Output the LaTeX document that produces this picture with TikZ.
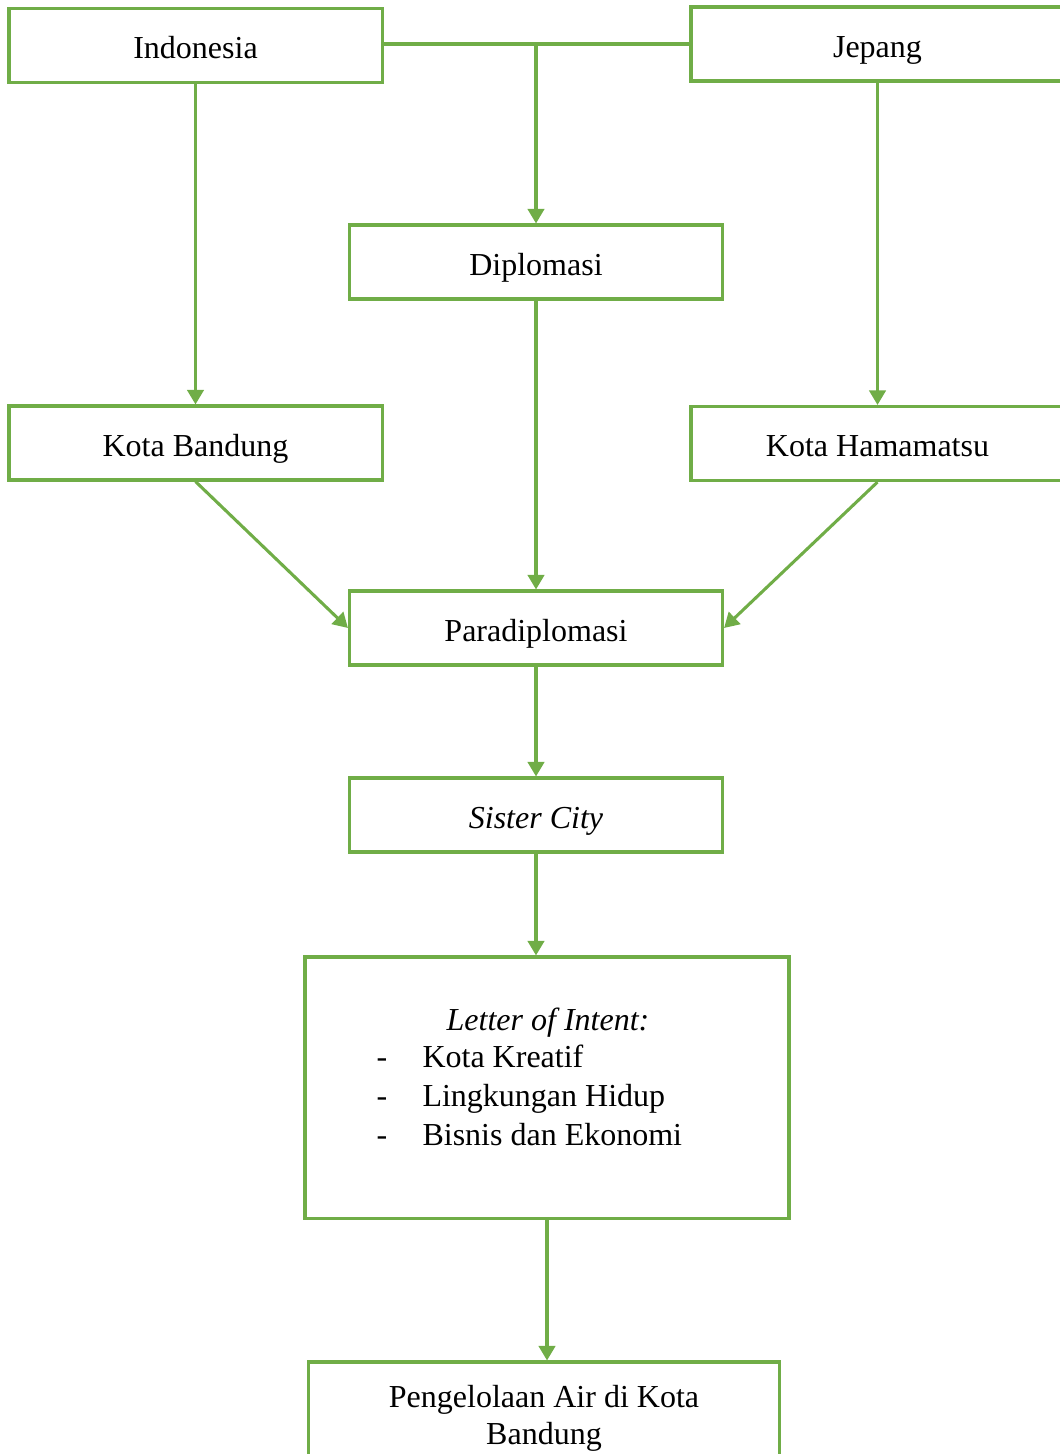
\documentclass[tikz,border=0pt]{standalone}
\usepackage{fontspec}
\setmainfont{Liberation Serif}
\usetikzlibrary{arrows.meta}
\definecolor{boxgreen}{RGB}{112,173,71}
\tikzstyle{box}=[draw=boxgreen,line width=1.15pt,minimum width=139.9pt,minimum height=27.75pt,inner sep=0pt]
\tikzstyle{edge} = [draw,line width=1.15pt,boxgreen,-{Triangle[length=5.5pt,width=6.2pt]}]
\tikzstyle{line} = [draw,line width=1.15pt,boxgreen]

\begin{document}
\begin{tikzpicture}[x=0.375pt,y=-0.375pt,font=\fontsize{12}{13.9}\selectfont]
    \useasboundingbox (0,0) rectangle (1060,1454);
	\foreach \pos/\name/\txt in {{(195.5,45.5)/indonesia/Indonesia}, {(877.5,44)/jepang/Jepang},
                            {(536,262)/diplomasi/Diplomasi}, {(195.5,443)/bandung/Kota Bandung},
                            {(877.5,443.5)/hamamatsu/Kota Hamamatsu}, {(536,628)/paradiplomasi/Paradiplomasi},
                            {(536,815)/sister/{\textit{Sister City}}}}
        \node[box,text height=11.5pt,text depth=1.5pt] (\name) at \pos {\txt};

    % letter of intent
    \node[box,minimum width=181.5pt,minimum height=97.9pt] (letter) at (547,1087.5) {};
    \node[anchor=base,inner sep=0pt] (intent) at (548,1030) {\textit{Letter of Intent:}};
    \foreach \y/\name/\txt in {1067/kreatif/Kota Kreatif, 1106/lingkungan/Lingkungan Hidup,
                               1145/bisnis/Bisnis dan Ekonomi}
    {
        \node[anchor=base west,inner sep=0pt] (dash-\name) at (376,\y) {-};
        \node[anchor=base west,inner sep=0pt] (\name) at (422,\y) {\txt};
    }

    \node[box,minimum width=176.6pt,minimum height=42pt,align=center] (air) at (544,1418)
        {Pengelolaan Air di Kota\\Bandung};

    \path[line] (indonesia.east |- jepang.west) -- (jepang.west);
    \path[edge] (jepang.west -| diplomasi.north) -- (diplomasi.north);
    \foreach \source/ \dest in {indonesia/bandung, jepang/hamamatsu, diplomasi/paradiplomasi,
                                paradiplomasi/sister, sister/letter, letter/air}
        \path[edge] (\source.south) -- (\source.south |- \dest.north);
    \path[edge] (bandung.south) -- (paradiplomasi.west);
    \path[edge] (hamamatsu.south) -- (paradiplomasi.east);
\end{tikzpicture}
\end{document}
